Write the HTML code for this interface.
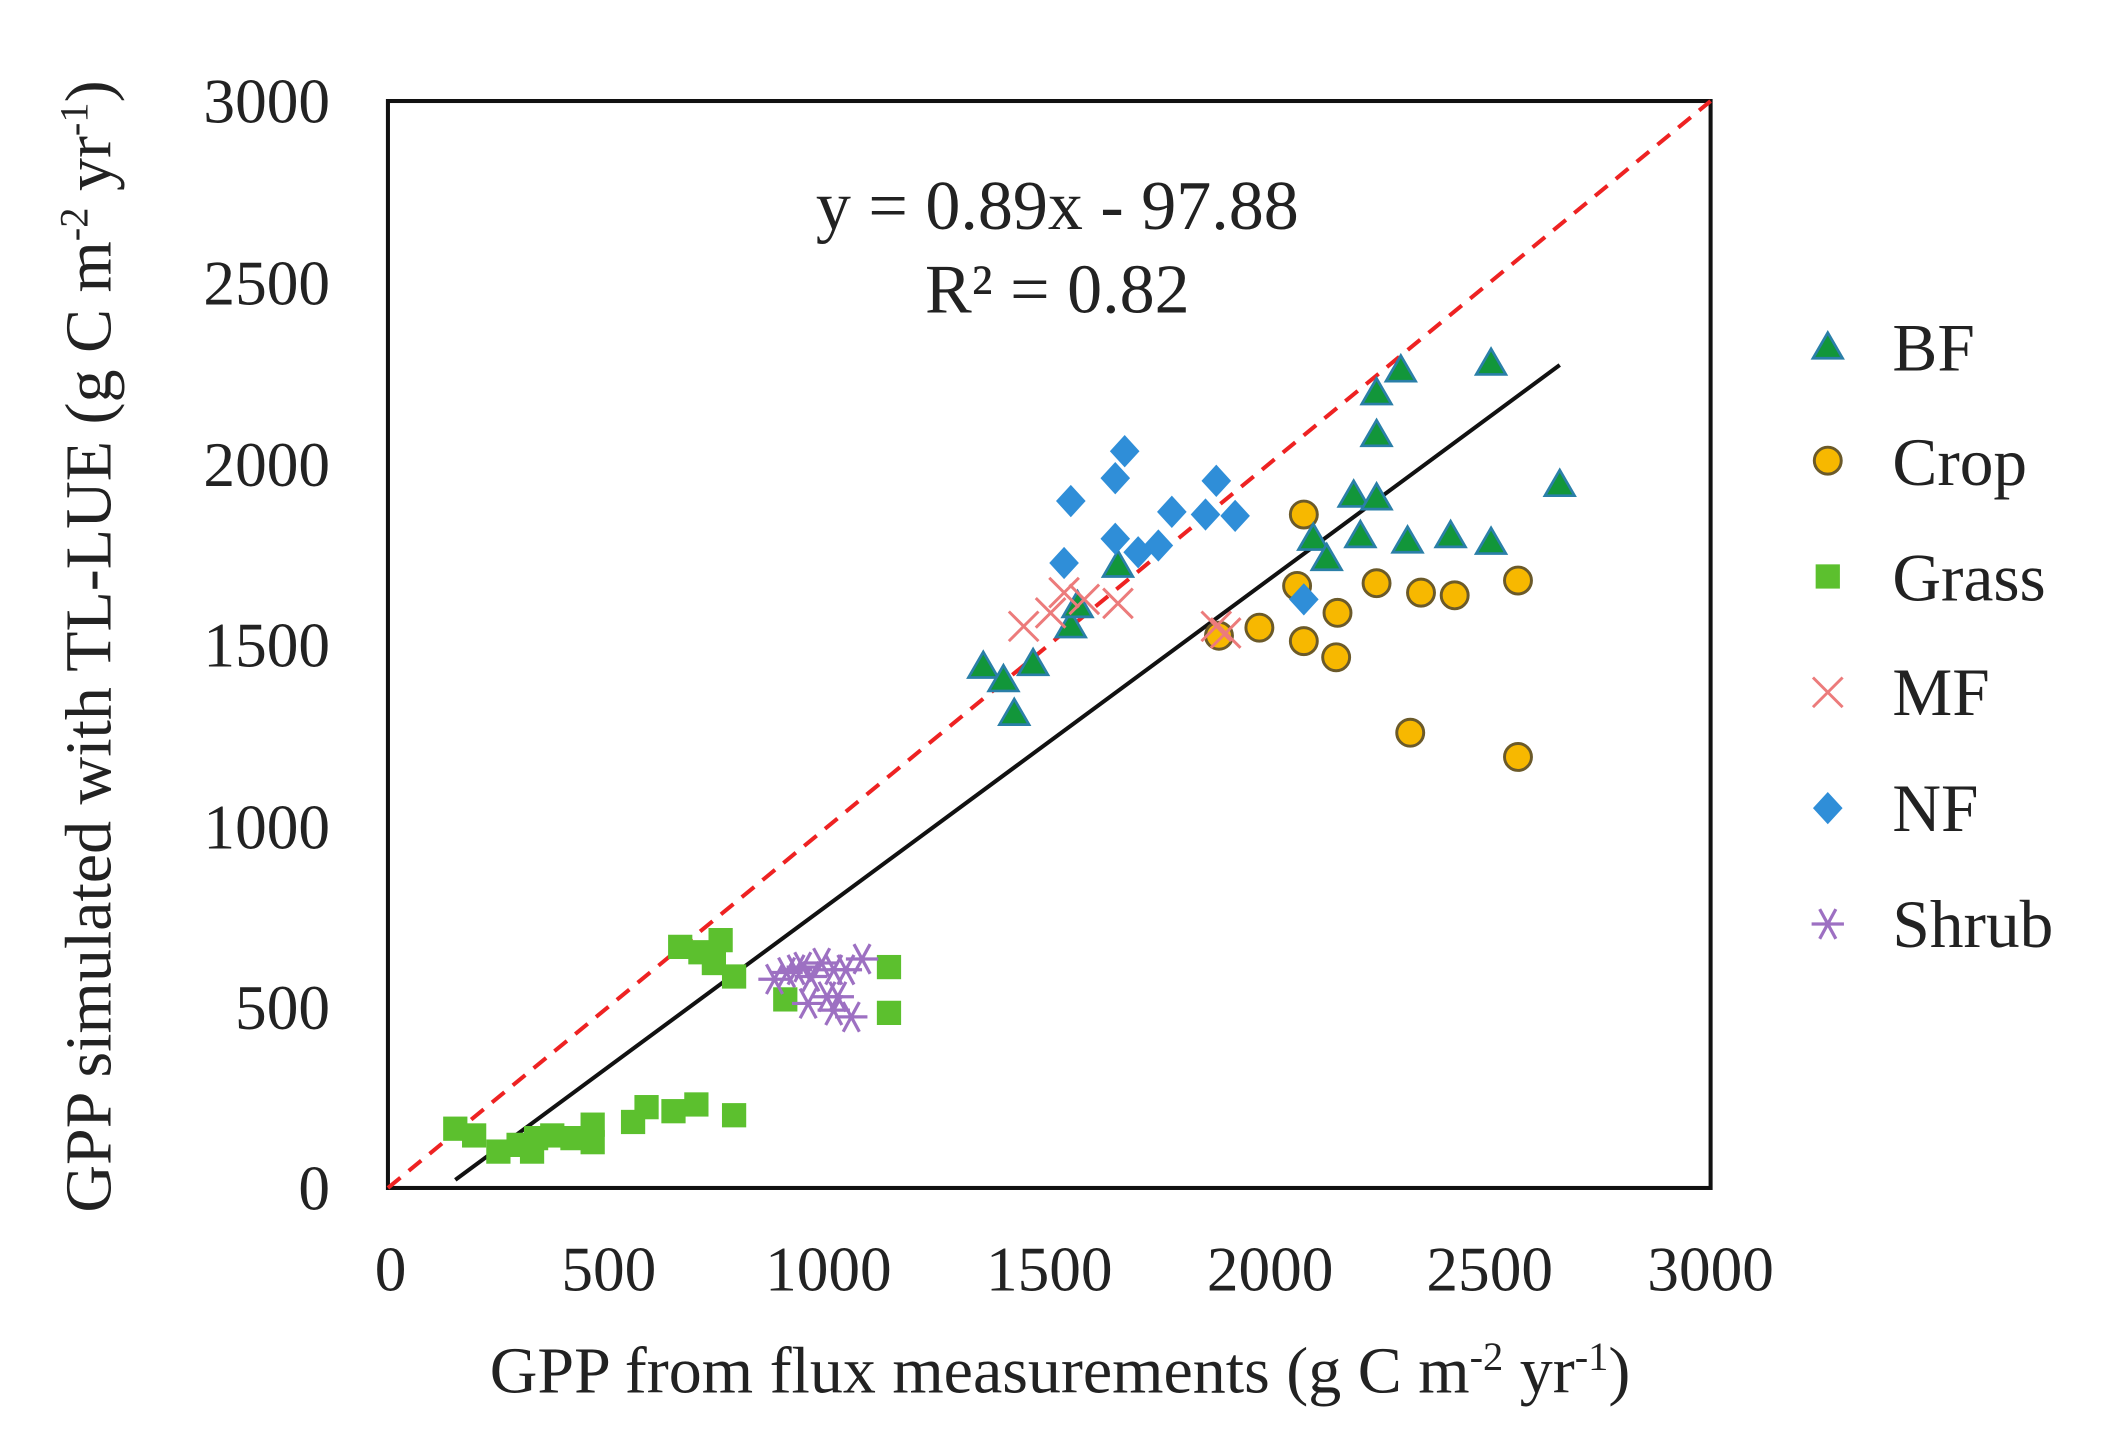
<!DOCTYPE html>
<html><head><meta charset="utf-8"><style>html,body{margin:0;padding:0;background:#fff}svg{display:block}</style></head>
<body>
<svg width="2112" height="1456" viewBox="0 0 1568 1081" xmlns="http://www.w3.org/2000/svg" font-family="Liberation Serif, serif" fill="#222">
<defs>
<path id="tri" d="M0,-11 L11,8 L-11,8 Z" fill="#12963a" stroke="#2a7fa8" stroke-width="2"/>
<circle id="cir" r="10" fill="#f7b800" stroke="#6b5a2a" stroke-width="2.2"/>
<rect id="sq" x="-9" y="-9" width="18" height="18" fill="#5cc02e"/>
<path id="dia" d="M0,-12 L11,0 L0,12 L-11,0 Z" fill="#2f8ed8"/>
<path id="crs" d="M-11,-11 L11,11 M-11,11 L11,-11" stroke="#ec7b7b" stroke-width="2.2" fill="none"/>
<path id="ast" d="M-12,0 L12,0 M-6,-11 L6,11 M-6,11 L6,-11" stroke="#9d70c2" stroke-width="2.4" fill="none"/>
</defs>
<rect x="288" y="75" width="982" height="807" fill="none" stroke="#111" stroke-width="3"/>
<g font-size="47" text-anchor="end">
<text x="245" y="898">0</text><text x="245" y="764">500</text><text x="245" y="630">1000</text>
<text x="245" y="495">1500</text><text x="245" y="361">2000</text><text x="245" y="226">2500</text><text x="245" y="91">3000</text>
</g>
<g font-size="47" text-anchor="middle">
<text x="290" y="958">0</text><text x="452" y="958">500</text><text x="615" y="958">1000</text>
<text x="779" y="958">1500</text><text x="943" y="958">2000</text><text x="1106" y="958">2500</text><text x="1270" y="958">3000</text>
</g>
<text x="787" y="1034" font-size="49" text-anchor="middle">GPP from flux measurements (g C m<tspan font-size="30" dy="-17">-2</tspan><tspan dy="17"> yr</tspan><tspan font-size="30" dy="-17">-1</tspan><tspan dy="17">)</tspan></text>
<text transform="translate(82,480) rotate(-90)" font-size="49" text-anchor="middle">GPP simulated with TL-LUE (g C m<tspan font-size="30" dy="-17">-2</tspan><tspan dy="17"> yr</tspan><tspan font-size="30" dy="-17">-1</tspan><tspan dy="17">)</tspan></text>
<text x="785" y="170" font-size="52" text-anchor="middle">y = 0.89x - 97.88</text>
<text x="785" y="232" font-size="52" text-anchor="middle">R² = 0.82</text>
<line x1="288" y1="882" x2="1270" y2="75" stroke="#ee2222" stroke-width="3" stroke-dasharray="12,8"/>
<line x1="338" y1="876" x2="1158" y2="271" stroke="#111" stroke-width="3"/>
<g>
<use href="#sq" x="338" y="838"/><use href="#sq" x="352" y="843"/><use href="#sq" x="370" y="855"/><use href="#sq" x="385" y="850"/><use href="#sq" x="395" y="855"/><use href="#sq" x="398" y="845"/><use href="#sq" x="410" y="843"/><use href="#sq" x="425" y="845"/><use href="#sq" x="440" y="848"/><use href="#sq" x="440" y="835"/><use href="#sq" x="470" y="833"/><use href="#sq" x="480" y="822"/><use href="#sq" x="500" y="825"/><use href="#sq" x="517" y="820"/><use href="#sq" x="545" y="828"/><use href="#sq" x="505" y="703"/><use href="#sq" x="520" y="707"/><use href="#sq" x="535" y="698"/><use href="#sq" x="545" y="725"/><use href="#sq" x="530" y="715"/><use href="#sq" x="583" y="742"/><use href="#sq" x="660" y="718"/><use href="#sq" x="660" y="752"/>
<use href="#ast" x="575" y="727"/><use href="#ast" x="584" y="722"/><use href="#ast" x="591" y="720"/><use href="#ast" x="596" y="718"/><use href="#ast" x="600" y="745"/><use href="#ast" x="602" y="725"/><use href="#ast" x="610" y="715"/><use href="#ast" x="614" y="740"/><use href="#ast" x="619" y="720"/><use href="#ast" x="619" y="750"/><use href="#ast" x="622" y="740"/><use href="#ast" x="628" y="720"/><use href="#ast" x="632" y="755"/><use href="#ast" x="640" y="712"/>
<use href="#cir" x="968" y="382"/><use href="#cir" x="963" y="435"/><use href="#cir" x="905" y="472"/><use href="#cir" x="935" y="466"/><use href="#cir" x="968" y="476"/><use href="#cir" x="993" y="455"/><use href="#cir" x="992" y="488"/><use href="#cir" x="1022" y="433"/><use href="#cir" x="1055" y="440"/><use href="#cir" x="1080" y="442"/><use href="#cir" x="1127" y="431"/><use href="#cir" x="1047" y="544"/><use href="#cir" x="1127" y="562"/>
<use href="#tri" x="730" y="495"/><use href="#tri" x="745" y="505"/><use href="#tri" x="753" y="530"/><use href="#tri" x="767" y="493"/><use href="#tri" x="795" y="465"/><use href="#tri" x="800" y="450"/><use href="#tri" x="830" y="420"/><use href="#tri" x="975" y="400"/><use href="#tri" x="985" y="415"/><use href="#tri" x="1005" y="368"/><use href="#tri" x="1010" y="398"/><use href="#tri" x="1022" y="292"/><use href="#tri" x="1022" y="323"/><use href="#tri" x="1022" y="370"/><use href="#tri" x="1040" y="275"/><use href="#tri" x="1045" y="402"/><use href="#tri" x="1077" y="398"/><use href="#tri" x="1107" y="270"/><use href="#tri" x="1107" y="403"/><use href="#tri" x="1158" y="360"/>
<use href="#dia" x="795" y="372"/><use href="#dia" x="790" y="418"/><use href="#dia" x="828" y="355"/><use href="#dia" x="835" y="335"/><use href="#dia" x="828" y="400"/><use href="#dia" x="860" y="405"/><use href="#dia" x="845" y="410"/><use href="#dia" x="870" y="380"/><use href="#dia" x="903" y="357"/><use href="#dia" x="895" y="382"/><use href="#dia" x="917" y="383"/><use href="#dia" x="968" y="445"/>
<use href="#crs" x="760" y="465"/><use href="#crs" x="780" y="455"/><use href="#crs" x="790" y="440"/><use href="#crs" x="805" y="445"/><use href="#crs" x="830" y="448"/><use href="#crs" x="903" y="465"/><use href="#crs" x="910" y="470"/>
</g>
<g font-size="50">
<use href="#tri" x="1357" y="258"/><text x="1405" y="275">BF</text>
<use href="#cir" x="1357" y="342"/><text x="1405" y="360">Crop</text>
<use href="#sq" x="1357" y="428"/><text x="1405" y="446">Grass</text>
<use href="#crs" x="1357" y="514"/><text x="1405" y="531">MF</text>
<use href="#dia" x="1357" y="600"/><text x="1405" y="617">NF</text>
<use href="#ast" x="1357" y="686"/><text x="1405" y="703">Shrub</text>
</g>
</svg>
</body></html>
